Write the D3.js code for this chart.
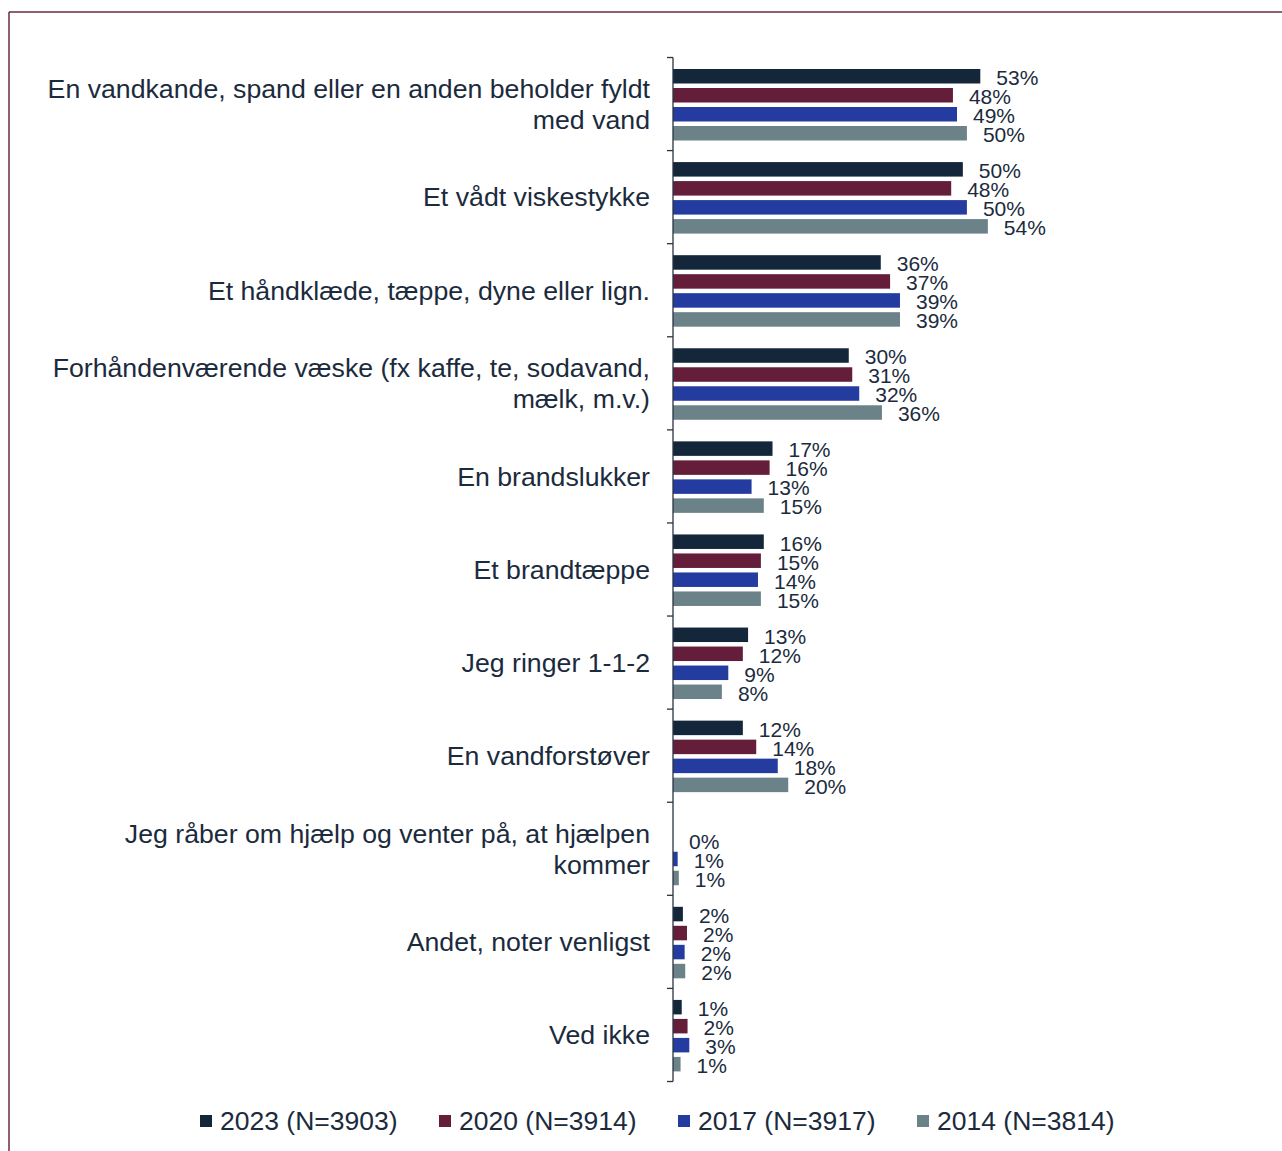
<!DOCTYPE html>
<html><head><meta charset="utf-8">
<script src="https://cdn.jsdelivr.net/npm/d3@7"></script>
<style>body{margin:0;background:#fff;} svg{display:block;font-family:"Liberation Sans",Arial,sans-serif;}</style>
</head><body>
<script>
const categories = [
  ["En vandkande, spand eller en anden beholder fyldt","med vand"],
  ["Et vådt viskestykke"],
  ["Et håndklæde, tæppe, dyne eller lign."],
  ["Forhåndenværende væske (fx kaffe, te, sodavand,","mælk, m.v.)"],
  ["En brandslukker"],
  ["Et brandtæppe"],
  ["Jeg ringer 1-1-2"],
  ["En vandforstøver"],
  ["Jeg råber om hjælp og venter på, at hjælpen","kommer"],
  ["Andet, noter venligst"],
  ["Ved ikke"]
];
const series = ["2023 (N=3903)","2020 (N=3914)","2017 (N=3917)","2014 (N=3814)"];
const v2023 = [52.8,49.8,35.7,30.2,17.1,15.6,12.9,12.0,0.0,1.7,1.5];
const v2020 = [48.1,47.8,37.3,30.8,16.6,15.1,12.0,14.3,0.0,2.4,2.5];
const v2017 = [48.8,50.5,39.0,32.0,13.5,14.6,9.5,18.0,0.8,2.0,2.8];
const v2014 = [50.5,54.1,39.0,35.9,15.6,15.1,8.4,19.8,1.0,2.1,1.3];
const l2023 = ["53%","50%","36%","30%","17%","16%","13%","12%","","2%","1%"];
const l2020 = ["48%","48%","37%","31%","16%","15%","12%","14%","0%","2%","2%"];
const l2017 = ["49%","50%","39%","32%","13%","14%","9%","18%","1%","2%","3%"];
const l2014 = ["50%","54%","39%","36%","15%","15%","8%","20%","1%","2%","1%"];
const colors = ["#13263a","#641e3a","#243ca0","#6b8289"];

const values = [v2023,v2020,v2017,v2014];
const labels = [l2023,l2020,l2017,l2014];
const W = 1282, H = 1151;
const textColor = "#1b2b3d";
const svg = d3.select("body").append("svg").attr("width",W).attr("height",H);

// frame
svg.append("line").attr("x1",9).attr("x2",W).attr("y1",12).attr("y2",12).attr("stroke","#6b2a45").attr("stroke-width",1.5);
svg.append("line").attr("x1",9).attr("x2",9).attr("y1",12).attr("y2",H).attr("stroke","#6b2a45").attr("stroke-width",1.5);

const idx = d3.range(categories.length);
const y = d3.scaleBand().domain(idx).range([57.5, 1081.5]).padding(0);
const y1 = d3.scaleBand().domain(d3.range(series.length)).range([11.5, 83]).paddingInner(0.237).paddingOuter(0);
const x = d3.scaleLinear().domain([0,100]).range([673, 673+582]);

const g = svg.append("g");
idx.forEach(i => {
  series.forEach((s,j) => {
    const v = values[j][i];
    const by = y(i) + y1(j);
    if (v > 0) {
      g.append("rect").attr("x",x(0)).attr("y",by).attr("width",x(v)-x(0)).attr("height",y1.bandwidth()).attr("fill",colors[j]);
    }
    if (labels[j][i]) {
      g.append("text").attr("x",x(v)+16).attr("y",by+y1.bandwidth()/2+1.5).attr("dy","0.35em")
        .attr("font-size",21).attr("fill",textColor).text(labels[j][i]);
    }
  });
  const lines = categories[i];
  const cy = y(i) + y.bandwidth()/2;
  const lh = 31;
  const t = svg.append("text").attr("text-anchor","end").attr("font-size",26.7).attr("fill",textColor);
  lines.forEach((ln,k) => {
    t.append("tspan").attr("x",650).attr("y", cy + (k - (lines.length-1)/2)*lh).attr("dy","0.35em").text(ln);
  });
});

// axis
const axisColor = "#2a3441";
const bounds = idx.map(i => y(i)).concat([y(idx[idx.length-1]) + y.bandwidth()]);
svg.append("line").attr("x1",x(0)).attr("x2",x(0)).attr("y1",bounds[0]).attr("y2",bounds[bounds.length-1]).attr("stroke",axisColor).attr("stroke-width",1.3);
bounds.forEach(b => {
  svg.append("line").attr("x1",x(0)-6).attr("x2",x(0)).attr("y1",b).attr("y2",b).attr("stroke",axisColor).attr("stroke-width",1.3);
});

// legend
const lx = d3.scaleLinear().domain([0,1]).range([200, 439]);
series.forEach((s,j) => {
  const gx = lx(j);
  svg.append("rect").attr("x",gx).attr("y",1115).attr("width",12).attr("height",12).attr("fill",colors[j]);
  svg.append("text").attr("x",gx+20).attr("y",1121).attr("dy","0.35em").attr("font-size",26.5).attr("fill",textColor).text(s);
});
</script>
</body></html>
